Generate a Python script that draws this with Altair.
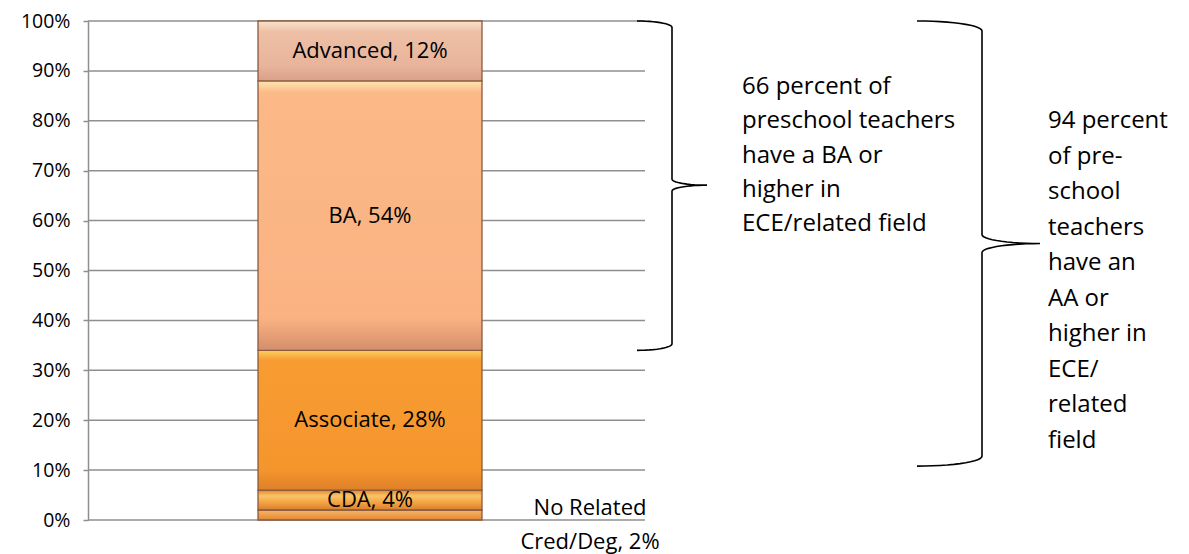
import altair as alt
import pandas as pd
import numpy as np

# ---- data ----
group = "Preschool teachers"
categories = ["No Related Cred/Deg", "CDA", "Associate", "BA", "Advanced"]
values = [2, 4, 28, 54, 12]
bar_labels = ["", "CDA, 4%", "Associate, 28%", "BA, 54%", "Advanced, 12%"]
tick_values = [0, 10, 20, 30, 40, 50, 60, 70, 80, 90, 100]

# colour gradients (top -> bottom) for each segment
gradients = {
    "Advanced": [("#F9E2CB", 0), ("#EEC0A6", 0.18), ("#E8B49B", 0.75), ("#D9A088", 1)],
    "BA": [("#FDE6B0", 0), ("#FBB987", 0.045), ("#FAB283", 0.88), ("#D58E6C", 1)],
    "Associate": [("#FCD060", 0), ("#F89C32", 0.07), ("#F5962D", 0.85), ("#DE8028", 1)],
    "CDA": [("#E28A2C", 0), ("#FAC466", 0.3), ("#F2A040", 0.65), ("#D67F30", 1)],
    "No Related Cred/Deg": [("#F6B868", 0), ("#E38632", 1)],
}

outside_label = "No Related\nCred/Deg, 2%"
note_66 = "66 percent of\npreschool teachers\nhave a BA or\nhigher  in\nECE/related field"
note_94 = "94 percent\nof pre-\nschool\nteachers\nhave an\nAA or\nhigher in\nECE/\nrelated\nfield"

# brace spans (percent): top, bottom, tip
brace_66 = (100, 34, 67.1)
brace_94 = (100, 10.8, 55.4)

# ---- layout ----
W, H = 1092, 499
FONT = "Open Sans"

starts = np.concatenate([[0], np.cumsum(values)[:-1]])
ends = np.cumsum(values)
df = pd.DataFrame({
    "group": group,
    "category": categories,
    "start": starts,
    "end": ends,
    "mid": (starts + ends) / 2,
    "label": bar_labels,
})

yscale = alt.Scale(domain=[0, 100], nice=False, zero=True)
yaxis = alt.Axis(values=tick_values, labelExpr="datum.value + '%'", title=None,
                 grid=False, labelFontSize=19.5, labelFont=FONT, labelColor="#000",
                 labelPadding=13, tickSize=5, tickColor="#8f8f8f", tickWidth=1.5,
                 domainColor="#8f8f8f", domainWidth=1.5)
xband = alt.Scale(range=[0, 564], paddingInner=0, paddingOuter=0.759)

grid_df = pd.DataFrame({"t": tick_values})
grid = alt.Chart(grid_df).mark_rule(color="#8f8f8f", strokeWidth=1.5).encode(
    y=alt.Y("t:Q", scale=yscale, axis=yaxis),
    x=alt.value(0),
    x2=alt.value(557),
)

bar_layers = []
for cat in categories:
    stops = [alt.GradientStop(color=c, offset=o) for c, o in gradients[cat]]
    bar_layers.append(
        alt.Chart(df).transform_filter(alt.datum.category == cat).mark_bar(
            stroke="#8B5A3C", strokeWidth=1.3,
            color=alt.LinearGradient(gradient="linear", stops=stops, x1=0, x2=0, y1=0, y2=1),
        ).encode(
            x=alt.X("group:N", scale=xband, axis=None),
            y=alt.Y("start:Q", scale=yscale, axis=yaxis),
            y2="end:Q",
        )
    )

labels = alt.Chart(df).mark_text(font=FONT, fontSize=22, color="#000", baseline="middle").encode(
    x=alt.X("group:N", scale=xband, axis=None),
    y=alt.Y("mid:Q", scale=yscale, axis=yaxis),
    text="label:N",
)


def brace(xl, xm, xt, top, bottom, tip, r_end, r_tip, name, n=14):
    pts = []
    t = np.linspace(0, np.pi / 2, n)
    for a in t:
        pts.append((xl + (xm - xl) * np.sin(a), top - r_end * (1 - np.cos(a))))
    for a in t:
        pts.append((xm + (xt - xm) * (1 - np.cos(a)), tip + r_tip - r_tip * np.sin(a)))
    for a in t[::-1]:
        pts.append((xm + (xt - xm) * (1 - np.cos(a)), tip - r_tip + r_tip * np.sin(a)))
    for a in t[::-1]:
        pts.append((xl + (xm - xl) * np.sin(a), bottom + r_end * (1 - np.cos(a))))
    return pd.DataFrame({"bx": [p[0] for p in pts], "by": [p[1] for p in pts],
                         "o": range(len(pts)), "brace": name})


braces_df = pd.concat([
    brace(549, 584, 619, *brace_66, 1.3, 1.2, "b66"),
    brace(829, 894, 952, *brace_94, 2.0, 1.8, "b94"),
])

braces = alt.Chart(braces_df).mark_line(color="#000", strokeWidth=1.6).encode(
    x=alt.X("bx:Q", scale=alt.Scale(domain=[0, W], nice=False, zero=False), axis=None),
    y=alt.Y("by:Q", scale=yscale, axis=yaxis),
    detail="brace:N",
    order=alt.Order("o:Q"),
)

note66 = alt.Chart(pd.DataFrame({"text": [note_66]})).mark_text(
    font=FONT, fontSize=24, align="left", baseline="alphabetic", lineBreak="\n",
    lineHeight=34.3, color="#000").encode(x=alt.value(654), y=alt.value(73), text="text:N")
note94 = alt.Chart(pd.DataFrame({"text": [note_94]})).mark_text(
    font=FONT, fontSize=24, align="left", baseline="alphabetic", lineBreak="\n",
    lineHeight=35.5, color="#000").encode(x=alt.value(960), y=alt.value(107), text="text:N")
outside = alt.Chart(pd.DataFrame({"text": [outside_label]})).mark_text(
    font=FONT, fontSize=22, align="center", baseline="alphabetic", lineBreak="\n",
    lineHeight=34, color="#000").encode(x=alt.value(502), y=alt.value(494), text="text:N")

chart = alt.layer(grid, *bar_layers, labels, braces, note66, note94, outside).resolve_scale(
    x="independent"
).properties(
    width=W, height=H, autosize="none",
    padding={"left": 80, "top": 13, "right": 1, "bottom": 34},
).configure_view(stroke=None)

chart.save("out.html", embed_options={"renderer": "svg", "actions": False})
